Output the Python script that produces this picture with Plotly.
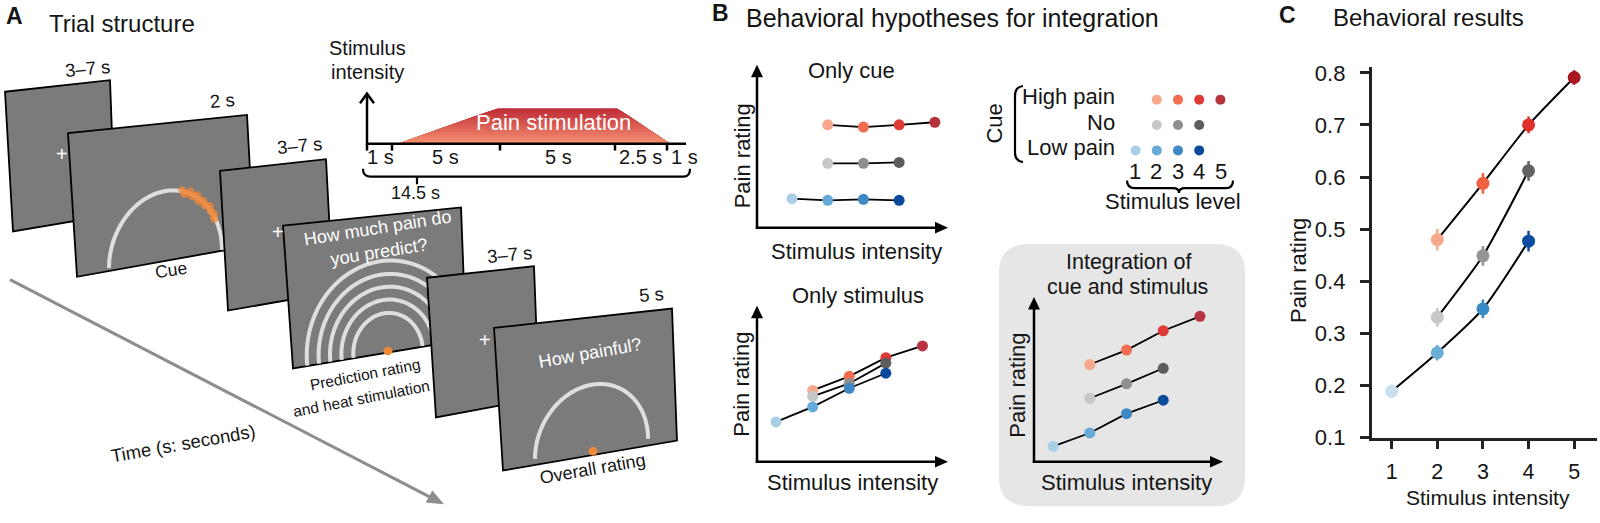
import math
import plotly.graph_objects as go

W, H = 1600, 523
FONT = "Liberation Sans, Arial, Helvetica, sans-serif"
INK = "#151515"

# ---------------- data ----------------
stim_levels = [1, 2, 3, 4, 5]
cue_names = ["High pain", "No", "Low pain"]
cue_levels = {"High pain": [2, 3, 4, 5], "No": [2, 3, 4], "Low pain": [1, 2, 3, 4]}
b_colors = {
    "High pain": ["#f9a98b", "#f26c50", "#de3a36", "#b5343f"],
    "No": ["#c7c7c7", "#8e8e8e", "#5c5c5c"],
    "Low pain": ["#a9cfe7", "#66aad8", "#3e88c5", "#0b4a9b"],
}
c_colors = {
    "High pain": ["#f9a98b", "#f0613f", "#df2f2a", "#a8161f"],
    "No": ["#c8c8c8", "#959595", "#626262"],
    "Low pain": ["#c8dff0", "#6aaed8", "#3a89c7", "#0d4c9e"],
}
# hypotheses (arbitrary units 0-1)
only_cue = {"High pain": [0.635, 0.621, 0.635, 0.651],
            "No": [0.397, 0.397, 0.403],
            "Low pain": [0.179, 0.169, 0.175, 0.169]}
only_stim = {"High pain": [0.460, 0.551, 0.671, 0.747],
             "No": [0.422, 0.505, 0.636],
             "Low pain": [0.257, 0.354, 0.474, 0.571]}
integration = {"High pain": [0.594, 0.682, 0.800, 0.888],
               "No": [0.388, 0.476, 0.571],
               "Low pain": [0.094, 0.176, 0.294, 0.376]}
# behavioral results
res_mean = {"High pain": [0.480, 0.588, 0.700, 0.791],
            "No": [0.331, 0.449, 0.612],
            "Low pain": [0.189, 0.263, 0.347, 0.477]}
res_sem = {"High pain": [0.021, 0.020, 0.016, 0.014],
           "No": [0.018, 0.019, 0.019],
           "Low pain": [0.013, 0.015, 0.018, 0.020]}
c_yticks = [0.1, 0.2, 0.3, 0.4, 0.5, 0.6, 0.7, 0.8]
timeline_labels = ["1 s", "5 s", "5 s", "2.5 s", "1 s"]
screen_durations = ["3–7 s", "2 s", "3–7 s", "14.5 s", "3–7 s", "5 s"]

# ---------------- helpers ----------------
def X(x):
    return x / W


def Y(y):
    return 1 - y / H


def pt(x, y):
    return f"{X(x):.5f},{Y(y):.5f}"


def poly(pts, close=True):
    s = "M " + " L ".join(pt(x, y) for x, y in pts)
    return s + (" Z" if close else "")


shapes = []
annots = []


def add_path(path, fill=None, line="black", lw=0, layer="above"):
    d = dict(type="path", xref="paper", yref="paper", path=path, layer=layer,
             line=dict(color=line, width=lw))
    if fill:
        d["fillcolor"] = fill
    shapes.append(d)


def add_line(x0, y0, x1, y1, color="black", lw=2.5):
    shapes.append(dict(type="line", xref="paper", yref="paper",
                       x0=X(x0), y0=Y(y0), x1=X(x1), y1=Y(y1),
                       line=dict(color=color, width=lw)))


def add_dot(x, y, r, color, opacity=1.0):
    shapes.append(dict(type="circle", xref="paper", yref="paper",
                       x0=X(x - r), x1=X(x + r), y0=Y(y + r), y1=Y(y - r),
                       fillcolor=color, opacity=opacity, line=dict(width=0)))


def arrow(x0, y0, x1, y1, color="black", lw=2.5, L=13, hw=6):
    d = math.hypot(x1 - x0, y1 - y0)
    ux, uy = (x1 - x0) / d, (y1 - y0) / d
    bx, by = x1 - L * ux, y1 - L * uy
    add_line(x0, y0, x1 - 0.7 * L * ux, y1 - 0.7 * L * uy, color, lw)
    nx, ny = -uy, ux
    add_path(poly([(x1, y1), (bx + hw * nx, by + hw * ny), (bx - hw * nx, by - hw * ny)]),
             fill=color, line=color, lw=0)


def txt(x, y, s, size=22, color=INK, angle=0, bold=False, xanchor="center"):
    if bold:
        s = f"<b>{s}</b>"
    if abs(angle) < 45:
        y = y - 3  # text box centre sits a little below the cap centre
    annots.append(dict(x=X(x), y=Y(y), xref="paper", yref="paper", text=s,
                       showarrow=False, textangle=angle, xanchor=xanchor,
                       yanchor="middle", font=dict(family=FONT, size=size, color=color)))


def arc(cx, cy, rx, ry, th_deg, vx=0.0, t0=0, t1=180, n=50):
    th = math.radians(th_deg)
    ux, uy = math.cos(th), math.sin(th)
    vn = math.hypot(vx, 1)
    wx, wy = vx / vn, -1 / vn
    pts = []
    for i in range(n + 1):
        t = math.radians(t0 + (t1 - t0) * i / n)
        pts.append((cx + rx * math.cos(t) * ux + ry * math.sin(t) * wx,
                    cy + rx * math.cos(t) * uy + ry * math.sin(t) * wy))
    return pts


def arc_point(cx, cy, rx, ry, th_deg, t_deg, dr=0.0):
    th = math.radians(th_deg)
    t = math.radians(t_deg)
    ux, uy = math.cos(th), math.sin(th)
    return (cx + (rx + dr) * math.cos(t) * ux, cy + (rx + dr) * math.cos(t) * uy - (ry + dr) * math.sin(t))


SCREEN = "#7b7b7b"
ARC = "#dedede"
ORANGE = "#f08838"


def screen(pts):
    add_path(poly(pts), fill=SCREEN, line="black", lw=1.8)


# ---------------- panel A ----------------
txt(14, 13.5, "A", 23, bold=True)
txt(122, 21.5, "Trial structure", 24)

# time arrow
arrow(10, 284, 444, 517, color="#8d8d8d", lw=3, L=17, hw=7)
txt(183, 457, "Time (s: seconds)", 18.5, angle=-10)

# screen 1 (fixation)
screen([(5, 89), (110, 77), (115, 216), (13, 234)])
txt(62, 157, "+", 20, color="white")
txt(87, 68, screen_durations[0], 18.5, angle=-5)

# screen 2 (cue)
screen([(68, 132), (247, 113), (254, 248), (77, 281)])
cue_c = (165.5, 262.5, 57.3, 70.5, -9.5)
add_path(poly(arc(*cue_c), close=False), line=ARC, lw=4)
cue_dot_angles = [(73, 1), (69, -2), (65, 2), (61, -1), (57, 2), (53, -2), (49, 1),
                  (45, -1), (41, 2), (37, 0), (33, 1), (29, -1)]
for t, dr in cue_dot_angles:
    px, py = arc_point(*cue_c, t, dr)
    add_dot(px, py, 4.2, ORANGE, 0.75)
txt(222, 101, screen_durations[1], 18.5, angle=-5)
txt(171, 277, "Cue", 17.5, angle=-8)

# screen 3 (fixation)
screen([(220, 171), (326, 159), (333, 297), (228, 316)])
txt(278, 238, "+", 20, color="white")
txt(299, 148, screen_durations[2], 18.5, angle=-5)

# screen 4 (prediction)
screen([(283, 228), (461, 209), (466, 346), (293, 376)])
for rx in [35, 47, 58.5, 70, 82]:
    add_path(poly(arc(388, 359, rx, rx * 1.15, -10, vx=-0.1), close=False), line=ARC, lw=4)
add_dot(388, 358, 4.5, ORANGE)
txt(377, 233, "How much pain do", 18, color="white", angle=-9)
txt(379, 258, "you predict?", 18, color="white", angle=-9)
txt(415, 197, screen_durations[3], 18)
txt(365, 385, "Prediction rating", 15.5, angle=-11)
txt(361, 410, "and heat stimulation", 15.5, angle=-11)

# screen 5 (fixation)
screen([(427, 282), (534, 270), (539, 407), (436, 427)])
txt(485, 350, "+", 20, color="white")
txt(509, 261, screen_durations[4], 18.5, angle=-5)

# screen 6 (overall rating)
screen([(494, 334), (672, 314), (677, 451), (503, 482)])
add_path(poly(arc(591.5, 459.5, 57.5, 66.5, -10.5), close=False), line=ARC, lw=4)
add_dot(593, 462, 4.5, ORANGE)
txt(590, 363, "How painful?", 18, color="white", angle=-10)
txt(651, 302, screen_durations[5], 18.5, angle=-5)
txt(592, 483, "Overall rating", 18, angle=-10)

# stimulus timeline
txt(367, 47, "Stimulus", 20)
txt(367, 72, "intensity", 20)
N = 24
ytop, ybot = 106, 143
c_top, c_bot = (190, 42, 54), (248, 146, 114)


def lx(y):
    return 498 + (y - ytop) * (398 - 498) / (ybot - ytop)


def rx_(y):
    return 617 + (y - ytop) * (670 - 617) / (ybot - ytop)


for k in range(N):
    ya = ytop + k * (ybot - ytop) / N
    f = (k + 0.5) / N
    col = "rgb(%d,%d,%d)" % tuple(int(c_top[i] + f * (c_bot[i] - c_top[i])) for i in range(3))
    add_path(poly([(lx(ya), ya), (rx_(ya), ya), (rx_(ybot), ybot), (lx(ybot), ybot)]),
             fill=col, line=col, lw=0)
txt(553, 124, "Pain stimulation", 22, color="white")
add_line(367, 143, 686, 143, lw=2.5)
add_line(367, 144, 367, 93, lw=2.5)
add_path(poly([(360, 101), (367, 91), (374, 101)], close=False), line="black", lw=2.5)
for tk in [367, 392, 500, 615, 667]:
    add_line(tk, 143, tk, 150, lw=2.5)
for lab, cx in zip(timeline_labels, [380, 445, 558, 640, 684]):
    txt(cx, 160, lab, 20)
add_path("M " + pt(363, 169) + " Q " + pt(363, 177) + " " + pt(370, 177) + " L " + pt(684, 177)
         + " Q " + pt(690, 177) + " " + pt(690, 169), line="black", lw=2.2)
add_line(417, 177, 417, 185, lw=2.2)

# ---------------- panel B ----------------
txt(720, 10, "B", 23, bold=True)
txt(953, 15.5, "Behavioral hypotheses for integration", 25)

# gray box for integration
bx0, by0, bx1, by1, r = 999, 247, 1245, 519, 30
add_path("M " + pt(bx0 + r, by0) + " L " + pt(bx1 - r, by0) + " Q " + pt(bx1, by0) + " " + pt(bx1, by0 + r)
         + " L " + pt(bx1, by1 - r) + " Q " + pt(bx1, by1) + " " + pt(bx1 - r, by1)
         + " L " + pt(bx0 + r, by1) + " Q " + pt(bx0, by1) + " " + pt(bx0, by1 - r)
         + " L " + pt(bx0, by0 + r) + " Q " + pt(bx0, by0) + " " + pt(bx0 + r, by0) + " Z",
         fill="#e6e6e6", line="#e6e6e6", lw=0, layer="below")

# hypothesis axes arrows
for (xl, yb_, yt, xr) in [(757, 230, 61, 948), (757, 473, 311, 948), (1034, 473, 302, 1223)]:
    arrow(xl, yb_ + 1.2, xl, yt)
    arrow(xl - 1.2, yb_, xr, yb_)

txt(851, 70, "Only cue", 22)
txt(742, 156, "Pain rating", 22, angle=-90)
txt(856, 258, "Stimulus intensity", 22)
txt(858, 303, "Only stimulus", 22)
txt(742, 393, "Pain rating", 22, angle=-90)
txt(853, 497, "Stimulus intensity", 22)
txt(1129, 269, "Integration of", 21.5)
txt(1127, 295, "cue and stimulus", 21.5)
txt(1018, 394, "Pain rating", 22, angle=-90)
txt(1126, 497, "Stimulus intensity", 22)

# legend
txt(995, 122, "Cue", 22, angle=-90)
add_path("M " + pt(1023, 83) + " Q " + pt(1015, 84) + " " + pt(1015, 93) + " L " + pt(1015, 152)
         + " Q " + pt(1015, 161) + " " + pt(1023, 162), line="black", lw=2.2)
for cue, yy in zip(cue_names, [97, 124, 150]):
    txt(1117, yy, cue, 22, xanchor="right")
for lv, xx in zip(stim_levels, [1135, 1156, 1178, 1199, 1221]):
    txt(xx, 175, str(lv), 22)
add_path("M " + pt(1127, 181) + " Q " + pt(1127, 189) + " " + pt(1135, 189) + " L " + pt(1173, 189)
         + " Q " + pt(1179, 189) + " " + pt(1179, 194) + " Q " + pt(1179, 189) + " " + pt(1185, 189)
         + " L " + pt(1226, 189) + " Q " + pt(1233, 189) + " " + pt(1233, 181), line="black", lw=2.2)
txt(1173, 206, "Stimulus level", 22)

# ---------------- panel C ----------------
txt(1287, 12, "C", 23, bold=True)
txt(1428, 15, "Behavioral results", 24)
txt(1298, 275, "Pain rating", 22, angle=-90)
txt(1488, 513, "Stimulus intensity", 21)

fig = go.Figure()


def dom_x(a, b):
    return [a / W, b / W]


def dom_y(top, bottom):
    return [1 - bottom / H, 1 - top / H]


hidden = dict(visible=False, showgrid=False, zeroline=False)
layout_axes = {
    "xaxis2": dict(domain=dom_x(757, 947), range=[0.02, 5.34], anchor="y2", **hidden),
    "yaxis2": dict(domain=dom_y(62, 230), range=[0, 1], anchor="x2", **hidden),
    "xaxis3": dict(domain=dom_x(757, 947), range=[0.48, 5.67], anchor="y3", **hidden),
    "yaxis3": dict(domain=dom_y(312, 473), range=[0, 1], anchor="x3", **hidden),
    "xaxis4": dict(domain=dom_x(1034, 1222), range=[0.48, 5.6], anchor="y4", **hidden),
    "yaxis4": dict(domain=dom_y(303, 473), range=[0, 1], anchor="x4", **hidden),
    "xaxis5": dict(domain=dom_x(1125, 1231), range=[0.5, 5.5], anchor="y5", **hidden),
    "yaxis5": dict(domain=dom_y(84, 163), range=[0.5, 3.5], anchor="x5", **hidden),
}

for data, xa, ya in [(only_cue, "x2", "y2"), (only_stim, "x3", "y3"), (integration, "x4", "y4")]:
    for cue in cue_names:
        fig.add_trace(go.Scatter(x=cue_levels[cue], y=data[cue], mode="lines",
                                 line=dict(color="black", width=1.8), xaxis=xa, yaxis=ya,
                                 hoverinfo="skip", cliponaxis=False))
    for cue in cue_names:
        fig.add_trace(go.Scatter(x=cue_levels[cue], y=data[cue], mode="markers",
                                 marker=dict(color=b_colors[cue], size=11, line=dict(width=0)),
                                 xaxis=xa, yaxis=ya, cliponaxis=False))

for i, cue in enumerate(cue_names):
    fig.add_trace(go.Scatter(x=cue_levels[cue], y=[3 - i] * len(cue_levels[cue]), mode="markers",
                             marker=dict(color=b_colors[cue], size=10, line=dict(width=0)),
                             xaxis="x5", yaxis="y5", cliponaxis=False))

for cue in cue_names:
    fig.add_trace(go.Scatter(x=cue_levels[cue], y=res_mean[cue], mode="lines",
                             line=dict(color="black", width=2, shape="spline", smoothing=0.6),
                             hoverinfo="skip", cliponaxis=False))
for cue in cue_names:
    for lv, m, e, col in zip(cue_levels[cue], res_mean[cue], res_sem[cue], c_colors[cue]):
        fig.add_trace(go.Scatter(x=[lv], y=[m], mode="markers",
                                 marker=dict(color=col, size=13, line=dict(width=0)),
                                 error_y=dict(type="data", array=[e], color=col, thickness=2.5, width=0),
                                 cliponaxis=False))

fig.update_layout(
    width=W, height=H, margin=dict(l=0, r=0, t=0, b=0),
    paper_bgcolor="white", plot_bgcolor="rgba(0,0,0,0)", showlegend=False,
    font=dict(family=FONT, color=INK),
    xaxis=dict(domain=dom_x(1371.6, 1597), range=[0.56, 5.5], tickvals=stim_levels,
               ticks="outside", ticklen=9, tickwidth=2.5, tickcolor="#222", showline=True,
               linewidth=2.5, linecolor="#222", showgrid=False, zeroline=False,
               tickfont=dict(size=21.5, color=INK, family=FONT), ticklabelstandoff=4, anchor="y"),
    yaxis=dict(domain=dom_y(63, 448), range=[0.1, 0.8117], tickvals=c_yticks,
               ticktext=[f"{v:.1f}" for v in c_yticks],
               ticks="outside", ticklen=9, tickwidth=2.5, tickcolor="#222", showline=True,
               linewidth=2.5, linecolor="#222", showgrid=False, zeroline=False,
               tickfont=dict(size=22, color=INK, family=FONT), ticklabelstandoff=10, anchor="x"),
    shapes=shapes, annotations=annots,
    **layout_axes,
)

fig.write_html("out.html", config={"displayModeBar": False},
               post_script="document.body.style.margin='0';document.body.style.overflow='hidden';")
